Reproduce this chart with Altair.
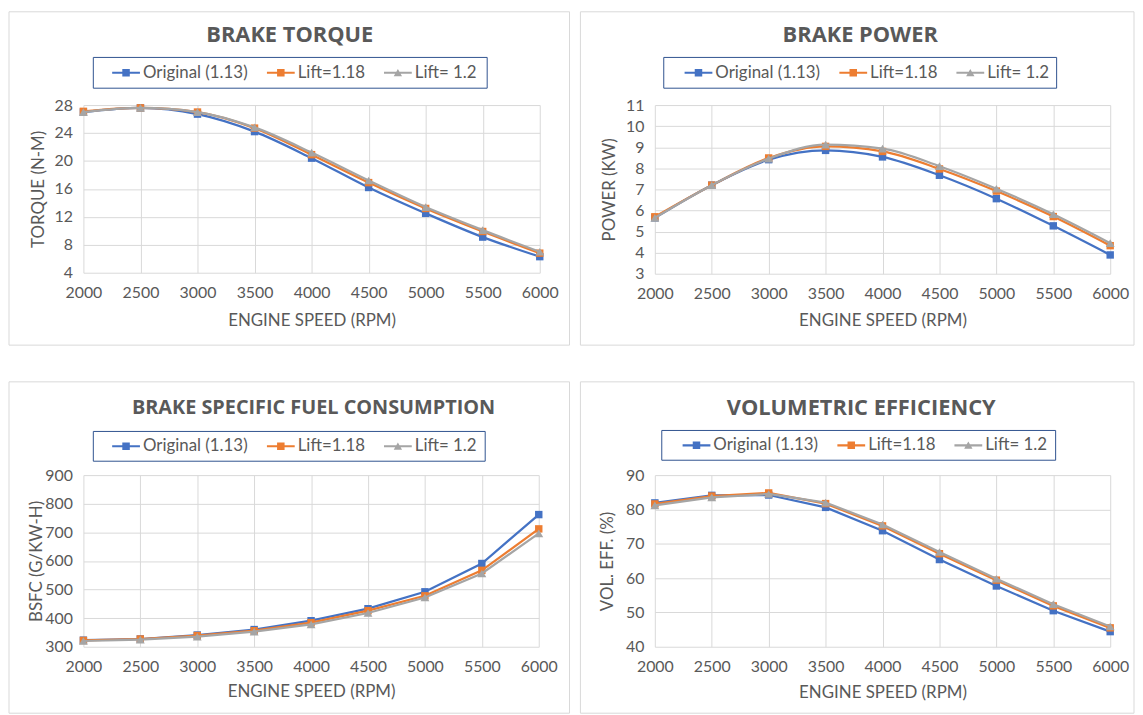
import altair as alt
import pandas as pd

# ---------------- data ----------------
rpm = [2000, 2500, 3000, 3500, 4000, 4500, 5000, 5500, 6000]
series_names = ["Original (1.13)", "Lift=1.18", "Lift= 1.2"]
series_colors = ["#4472C4", "#ED7D31", "#A5A5A5"]

torque_original = [27.0, 27.6, 26.7, 24.2, 20.4, 16.2, 12.5, 9.1, 6.3]
torque_lift118 = [27.1, 27.6, 27.0, 24.7, 20.9, 16.9, 13.2, 9.9, 6.8]
torque_lift12 = [27.0, 27.6, 27.0, 24.8, 21.2, 17.2, 13.4, 10.1, 7.0]

power_original = [5.65, 7.2, 8.41, 8.85, 8.54, 7.67, 6.56, 5.27, 3.89]
power_lift118 = [5.7, 7.2, 8.49, 9.04, 8.8, 7.97, 6.92, 5.71, 4.33]
power_lift12 = [5.65, 7.2, 8.46, 9.12, 8.93, 8.1, 7.03, 5.82, 4.45]

bsfc_original = [323, 327, 341, 360, 391, 433, 492, 591, 762]
bsfc_lift118 = [322, 327, 339, 356, 384, 426, 478, 567, 712]
bsfc_lift12 = [320, 325, 335, 353, 378, 418, 472, 556, 696]

vol_original = [81.9, 84.1, 84.2, 80.6, 73.8, 65.4, 57.7, 50.5, 44.4]
vol_lift118 = [81.6, 83.9, 84.8, 81.7, 75.2, 67.1, 59.4, 51.9, 45.5]
vol_lift12 = [81.2, 83.5, 84.5, 82.0, 75.6, 67.6, 59.8, 52.4, 45.9]

torque_ticks = [4, 8, 12, 16, 20, 24, 28]
power_ticks = [3, 4, 5, 6, 7, 8, 9, 10, 11]
bsfc_ticks = [300, 400, 500, 600, 700, 800, 900]
vol_ticks = [40, 50, 60, 70, 80, 90]

# legend symbols: line with marker (square / triangle)
legend_shapes = [
    "M-1,-0.075H1V0.075H-1Z M-0.27,-0.27H0.27V0.27H-0.27Z",
    "M-1,-0.075H1V0.075H-1Z M-0.27,-0.27H0.27V0.27H-0.27Z",
    "M-1,-0.075H1V0.075H-1Z M-0.3,0.24L0,-0.28L0.3,0.24Z",
]

TEXT = "#595959"
GRID = "#D9D9D9"
one_row = pd.DataFrame({"k": [0]})


def long_frame(vals):
    rows = []
    for name, v in zip(series_names, vals):
        for r, y in zip(rpm, v):
            rows.append({"rpm": r, "value": y, "series": name})
    return pd.DataFrame(rows)


def panel(title, ytitle, vals, ticks, interp, w, h, box, title_xy,
          legend_xy, legend_box, ytitle_x, xtitle_y, title_size=22):
    df = long_frame(vals)
    x = alt.X("rpm:Q",
              scale=alt.Scale(domain=[rpm[0], rpm[-1]], nice=False, zero=False),
              axis=alt.Axis(values=rpm, format="d", title="ENGINE SPEED (RPM)",
                            titleY=xtitle_y, titleBaseline="middle",
                            labelPadding=12, labelFlush=False, labelOverlap=False))
    y = alt.Y("value:Q",
              scale=alt.Scale(domain=[ticks[0], ticks[-1]], nice=False, zero=False),
              axis=alt.Axis(values=ticks, format="d", title=ytitle,
                            titleX=ytitle_x, titleY=h / 2, titleAngle=-90,
                            titleAlign="center", titleBaseline="middle",
                            labelPadding=11, labelFlush=False, labelOverlap=False))

    frame = alt.Chart(one_row).mark_rect(
        fill="transparent", stroke=GRID, strokeWidth=1
    ).encode(x=alt.value(box[0]), x2=alt.value(box[1]),
             y=alt.value(box[2]), y2=alt.value(box[3]))

    lbox = alt.Chart(one_row).mark_rect(
        fill="transparent", stroke="#2F528F", strokeWidth=1
    ).encode(x=alt.value(legend_box[0]), x2=alt.value(legend_box[1]),
             y=alt.value(legend_box[2]), y2=alt.value(legend_box[3]))

    ttl = alt.Chart(one_row).mark_text(
        text=title, font="Open Sans", fontSize=title_size, fontWeight="bold",
        color=TEXT, align="center", baseline="middle"
    ).encode(x=alt.value(title_xy[0]), y=alt.value(title_xy[1]))

    layers = [frame, lbox, ttl]
    base = alt.Chart(df)
    for i, name in enumerate(series_names):
        sub = base.transform_filter(alt.datum.series == name)
        line = sub.mark_line(strokeWidth=2.25, interpolate=interp,
                             color=series_colors[i]).encode(x=x, y=y)
        shape = "triangle-up" if i == 2 else "square"
        size = 80 if i == 2 else 56
        pts = sub.mark_point(filled=True, opacity=1, shape=shape, size=size,
                             color=series_colors[i]).encode(x=x, y=y)
        layers += [line, pts]

    leg_def = dict(orient="none", legendX=legend_xy[0], legendY=legend_xy[1],
                   direction="horizontal", title=None, symbolSize=784,
                   symbolOpacity=1, symbolStrokeWidth=0, labelFont="Lato",
                   labelFontSize=17, labelColor=TEXT, columnPadding=19,
                   labelOffset=3, padding=0)
    leg = base.mark_point(filled=True, opacity=0).encode(
        x=x, y=y,
        color=alt.Color("series:N",
                        scale=alt.Scale(domain=series_names, range=series_colors),
                        legend=alt.Legend(**leg_def)),
        shape=alt.Shape("series:N",
                        scale=alt.Scale(domain=series_names, range=legend_shapes),
                        legend=alt.Legend(**leg_def)),
    )
    layers.append(leg)
    return alt.layer(*layers).properties(width=w, height=h)


tl = panel("BRAKE TORQUE", "TORQUE (N-M)",
           [torque_original, torque_lift118, torque_lift12], torque_ticks,
           "monotone", 460, 169,
           box=(-75, 490, -94, 242), title_xy=(208, -71),
           legend_xy=(29, -46.5), legend_box=(10, 407, -48, -17),
           ytitle_x=-45, xtitle_y=48)

tr = panel("BRAKE POWER", "POWER (KW)",
           [power_original, power_lift118, power_lift12], power_ticks,
           "monotone", 459, 170,
           box=(-75, 483, -94, 242), title_xy=(207, -71),
           legend_xy=(30, -46.5), legend_box=(9, 405, -48, -17),
           ytitle_x=-46, xtitle_y=47)

bl = panel("BRAKE SPECIFIC FUEL CONSUMPTION", "BSFC (G/KW-H)",
           [bsfc_original, bsfc_lift118, bsfc_lift12], bsfc_ticks,
           "linear", 459, 173,
           box=(-75, 490, -94, 240), title_xy=(232, -68),
           legend_xy=(29, -43), legend_box=(10, 405, -44, -14),
           ytitle_x=-47, xtitle_y=45, title_size=20)

br = panel("VOLUMETRIC EFFICIENCY", "VOL. EFF. (%)",
           [vol_original, vol_lift118, vol_lift12], vol_ticks,
           "linear", 459, 173,
           box=(-75, 483, -94, 240), title_xy=(208, -68),
           legend_xy=(28, -44), legend_box=(7, 404, -45, -15),
           ytitle_x=-48, xtitle_y=46)

chart = alt.concat(
    tl, tr, bl, br, columns=2,
    spacing={"row": 35, "column": 9},
).resolve_scale(color="independent", shape="independent").properties(
    padding=0
).configure_view(stroke=None).configure_axis(
    labelFont="Lato", labelFontSize=16, labelColor=TEXT,
    titleFont="Lato", titleFontSize=17, titleFontWeight="normal", titleColor=TEXT,
    gridColor=GRID, gridWidth=1, domain=False, ticks=False, grid=True,
)

chart.save("out.html", embed_options={"renderer": "svg", "actions": False})
